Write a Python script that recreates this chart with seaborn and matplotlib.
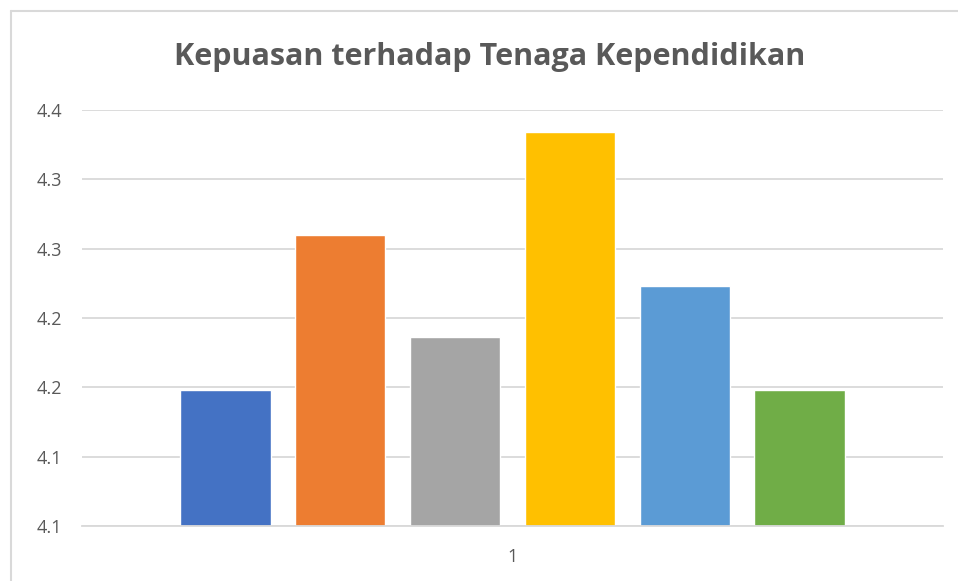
import matplotlib
matplotlib.use("Agg")
import matplotlib.pyplot as plt
import seaborn as sns
import pandas as pd
from matplotlib.lines import Line2D

# Data
categories = ["1"] * 6
series = ["S1", "S2", "S3", "S4", "S5", "S6"]
values = [4.148, 4.260, 4.186, 4.334, 4.223, 4.148]
colors = ["#4472C4", "#ED7D31", "#A5A5A5", "#FFC000", "#5B9BD5", "#70AD47"]
yticks = [4.05, 4.10, 4.15, 4.20, 4.25, 4.30, 4.35]
ytick_labels = ["4.1", "4.1", "4.2", "4.2", "4.3", "4.3", "4.4"]

df = pd.DataFrame({"cat": categories, "series": series, "value": values})

sns.set_style("white")
plt.rcParams["font.family"] = ["Open Sans", "DejaVu Sans"]

fig = plt.figure(figsize=(9.58, 5.81), dpi=100)
ax = fig.add_axes([82 / 958, 55 / 581, 861 / 958, 416 / 581])

sns.barplot(data=df, x="cat", y="value", hue="series", palette=colors,
            width=0.8, gap=0.215, saturation=1, legend=False, ax=ax)

# bars start at the axis floor
for p in ax.patches:
    h = p.get_height()
    p.set_y(yticks[0])
    p.set_height(h - yticks[0])

ax.set_ylim(yticks[0], yticks[-1])
ax.set_xlim(-0.5, 0.5)
ax.set_yticks(yticks)
ax.set_yticklabels(ytick_labels)
ax.yaxis.grid(True, color="#D9D9D9", linewidth=1.3)
ax.set_axisbelow(True)
for s in ["top", "right", "left"]:
    ax.spines[s].set_visible(False)
ax.spines["bottom"].set_color("#D9D9D9")
ax.spines["bottom"].set_linewidth(1.3)
ax.tick_params(axis="both", length=0, labelsize=13, colors="#595959", pad=14)
ax.tick_params(axis="x", pad=16)
ax.set_xlabel("")
ax.set_ylabel("")

fig.text(490 / 958, 1 - 57 / 581, "Kepuasan terhadap Tenaga Kependidikan",
         ha="center", va="center", fontsize=22, fontweight="bold",
         color="#595959")

# chart area border (top and left edges visible)
fig.add_artist(Line2D([11 / 958, 11 / 958], [0, 1 - 11 / 581],
                      transform=fig.transFigure, color="#D9D9D9", linewidth=1.5))
fig.add_artist(Line2D([11 / 958, 1], [1 - 11 / 581, 1 - 11 / 581],
                      transform=fig.transFigure, color="#D9D9D9", linewidth=1.5))

fig.savefig("out.png", dpi=100)
